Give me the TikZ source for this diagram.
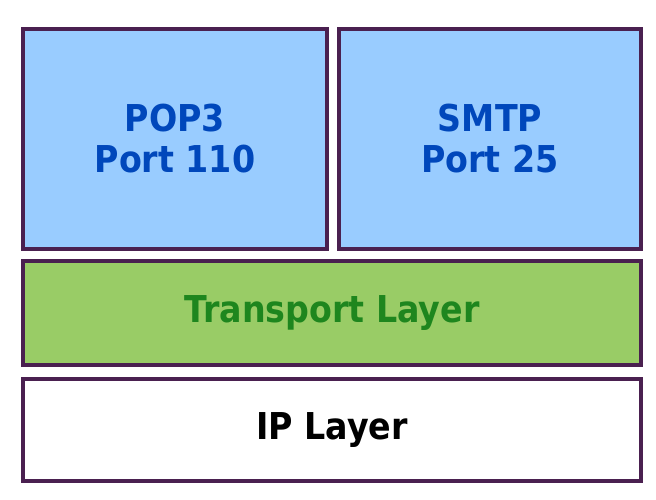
\documentclass[tikz,border=0pt]{standalone}
\usepackage{fontspec}
\setmainfont{DejaVu Sans Condensed}
\usetikzlibrary{math}

\definecolor{layerline}{HTML}{4A2050}
\definecolor{appfill}{HTML}{99CCFF}
\definecolor{apptext}{HTML}{0047BB}
\definecolor{transfill}{HTML}{99CC66}
\definecolor{transtext}{HTML}{1E861E}

\begin{document}
\begin{tikzpicture}[x=1pt, y=-1pt,
	layerbox/.style={draw=layerline, line width=4pt, anchor=north west, inner sep=0pt,
		align=center, font=\bfseries\fontsize{37}{41}\selectfont},
	appbox/.style={layerbox, fill=appfill, text=apptext},
]
	% Constants
	\tikzmath{
		\leftx = 21; \rightx = 639; \midgap = 12;
		\appw = 304; \apph = 220; \fullw = \rightx - \leftx;
	}
	\useasboundingbox (0, 0) rectangle (656, 500);

	% Application protocols
	\node[appbox, minimum width=\appw pt, minimum height=\apph pt] (pop3) at (\leftx, 27) {POP3\\Port 110};
	\node[appbox, minimum width={(\fullw - \appw - \midgap) * 1pt}, minimum height=\apph pt] (smtp) at ({\leftx + \appw + \midgap}, 27) {SMTP\\Port 25};
	% Lower layers
	\node[layerbox, fill=transfill, text=transtext, minimum width=\fullw pt, minimum height=104pt] (transport) at (\leftx, 259) {Transport Layer};
	\node[layerbox, fill=white, text=black, minimum width=\fullw pt, minimum height=102pt] (ip) at (\leftx, 377) {IP Layer};
\end{tikzpicture}
\end{document}
